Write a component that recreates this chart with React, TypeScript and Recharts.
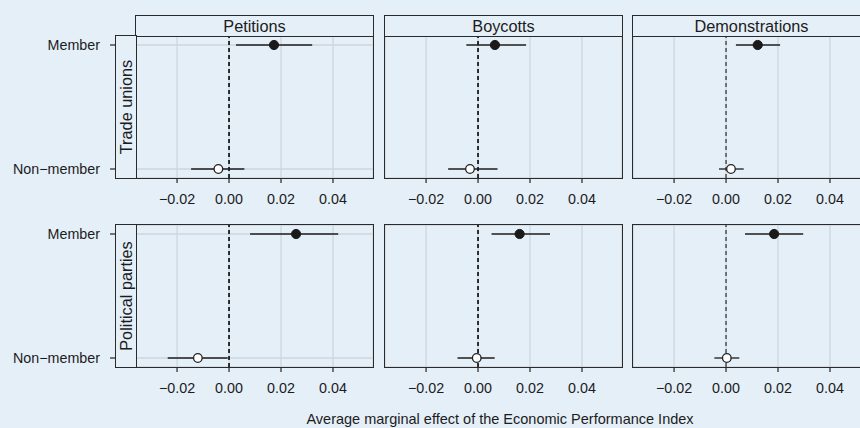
import React from 'react';
import { ScatterChart, Scatter, XAxis, YAxis, CartesianGrid, ReferenceLine, ErrorBar } from 'recharts';

// facets, rows and groups
const facets = ['Petitions', 'Boycotts', 'Demonstrations'];
const rowLabels = ['Trade unions', 'Political parties'];
const groups = ['Member', 'Non\u2212member'];
const xTicks = [-0.02, 0, 0.02, 0.04];

// trade unions (per facet: petitions, boycotts, demonstrations)
const unionMemberEst = [0.0173, 0.0065, 0.0122];
const unionMemberLo = [0.0027, -0.0045, 0.0038];
const unionMemberHi = [0.032, 0.0185, 0.0208];
const unionNonEst = [-0.0041, -0.0031, 0.0019];
const unionNonLo = [-0.0146, -0.0115, -0.0027];
const unionNonHi = [0.0059, 0.0075, 0.0068];

// political parties
const partyMemberEst = [0.0258, 0.016, 0.0185];
const partyMemberLo = [0.0081, 0.0052, 0.0073];
const partyMemberHi = [0.042, 0.0277, 0.0297];
const partyNonEst = [-0.012, -0.0005, 0.0003];
const partyNonLo = [-0.0236, -0.0079, -0.0045];
const partyNonHi = [-0.0005, 0.0064, 0.0051];

const bg = '#e5eff8';
const gridColor = '#cdd6df';
const ink = '#1c1c1c';
const font = '"Liberation Sans", Arial, Helvetica, sans-serif';

const colLeft = [136, 385, 633];
const rowTop = [36, 225];
const plotW = 237;
const plotH = 142;
const xDomain = [-0.0358, 0.0554];
const yDomain = [-0.0726, 1.0726];

const fmt = (v: number) => (v < 0 ? '\u2212' : '') + Math.abs(v).toFixed(2);

const filledDot = (p: any) => <circle cx={p.cx} cy={p.cy} r={4.6} fill="#1a1a1a" stroke="#1a1a1a" />;
const openDot = (p: any) => <circle cx={p.cx} cy={p.cy} r={4.3} fill="#ffffff" stroke="#222" strokeWidth={1.3} />;

function Panel({ r, c }: { r: number; c: number }) {
  const src = r === 0
    ? [unionMemberEst, unionMemberLo, unionMemberHi, unionNonEst, unionNonLo, unionNonHi]
    : [partyMemberEst, partyMemberLo, partyMemberHi, partyNonEst, partyNonLo, partyNonHi];
  const [mEst, mLo, mHi, nEst, nLo, nHi] = src;
  const member = [{ x: mEst[c], y: 1, err: [mEst[c] - mLo[c], mHi[c] - mEst[c]] }];
  const nonMember = [{ x: nEst[c], y: 0, err: [nEst[c] - nLo[c], nHi[c] - nEst[c]] }];
  const first = c === 0;
  const yW = first ? colLeft[0] : 0;

  return (
    <div style={{ position: 'absolute', left: colLeft[c] - yW, top: rowTop[r] }}>
      <ScatterChart width={yW + plotW} height={plotH + 40} margin={{ top: 0, right: 0, bottom: 0, left: 0 }}>
        <CartesianGrid stroke={gridColor} strokeWidth={1.3} />
        <XAxis
          type="number"
          dataKey="x"
          domain={xDomain}
          ticks={xTicks}
          interval={0}
          allowDataOverflow
          height={40}
          tickSize={5}
          tickMargin={11}
          axisLine={false}
          tickLine={{ stroke: '#333', strokeWidth: 1.3 }}
          tick={{ fill: ink, fontSize: 14.3 }}
          tickFormatter={fmt}
        />
        <YAxis
          type="number"
          dataKey="y"
          domain={yDomain}
          ticks={[0, 1]}
          interval={0}
          allowDataOverflow
          width={yW}
          tickSize={26}
          tickMargin={10}
          axisLine={false}
          tickLine={first ? { stroke: '#333', strokeWidth: 1.3 } : false}
          tick={first ? { fill: ink, fontSize: 14.3 } : false}
          tickFormatter={(v: number) => (v === 1 ? groups[0] : groups[1])}
        />
        <ReferenceLine x={0} stroke={ink} strokeDasharray="4 3" strokeWidth={c === 2 ? 1.1 : 1.8} />
        <Scatter data={nonMember} shape={openDot} isAnimationActive={false}>
          <ErrorBar dataKey="err" direction="x" width={0} stroke={ink} strokeWidth={1.3} />
        </Scatter>
        <Scatter data={member} shape={filledDot} isAnimationActive={false}>
          <ErrorBar dataKey="err" direction="x" width={0} stroke={ink} strokeWidth={1.3} />
        </Scatter>
      </ScatterChart>
    </div>
  );
}

export default function App() {
  return (
    <div
      style={{
        position: 'absolute',
        left: 0,
        top: 0,
        width: 860,
        height: 428,
        overflow: 'hidden',
        background: bg,
        fontFamily: font,
        color: ink,
      }}
    >
      {rowLabels.map((_, r) => facets.map((_, c) => <Panel key={`${r}-${c}`} r={r} c={c} />))}

      {/* plot borders */}
      {rowLabels.map((_, r) =>
        facets.map((_, c) => (
          <div
            key={`b-${r}-${c}`}
            style={{
              position: 'absolute',
              left: colLeft[c] - 1,
              top: rowTop[r] - 1,
              width: plotW + 2,
              height: plotH + 2,
              border: '1px solid #2a2a2a',
              boxSizing: 'border-box',
              pointerEvents: 'none',
            }}
          />
        ))
      )}

      {/* column strips */}
      {facets.map((f, c) => (
        <div
          key={`s-${c}`}
          style={{
            position: 'absolute',
            left: colLeft[c] - 1,
            top: 15,
            width: plotW + 2,
            height: 22,
            border: '1px solid #2a2a2a',
            boxSizing: 'border-box',
            background: bg,
            fontSize: 16.3,
            lineHeight: '20px',
            textAlign: 'center',
          }}
        >
          {f}
        </div>
      ))}

      {/* row strips */}
      {rowLabels.map((lab, r) => (
        <div
          key={`r-${r}`}
          style={{
            position: 'absolute',
            left: 115,
            top: rowTop[r] - 1,
            width: 22,
            height: plotH + 2,
            border: '1px solid #2a2a2a',
            boxSizing: 'border-box',
            background: bg,
          }}
        >
          <div
            style={{
              position: 'absolute',
              left: 10,
              top: plotH / 2,
              width: 140,
              marginLeft: -70,
              marginTop: -10,
              height: 20,
              lineHeight: '20px',
              fontSize: 16.3,
              textAlign: 'center',
              transform: 'rotate(-90deg)',
              whiteSpace: 'nowrap',
            }}
          >
            {lab}
          </div>
        </div>
      ))}

      <div
        style={{
          position: 'absolute',
          left: 250,
          top: 412,
          width: 500,
          textAlign: 'center',
          fontSize: 14.5,
          lineHeight: '14px',
        }}
      >
        Average marginal effect of the Economic Performance Index
      </div>
    </div>
  );
}
